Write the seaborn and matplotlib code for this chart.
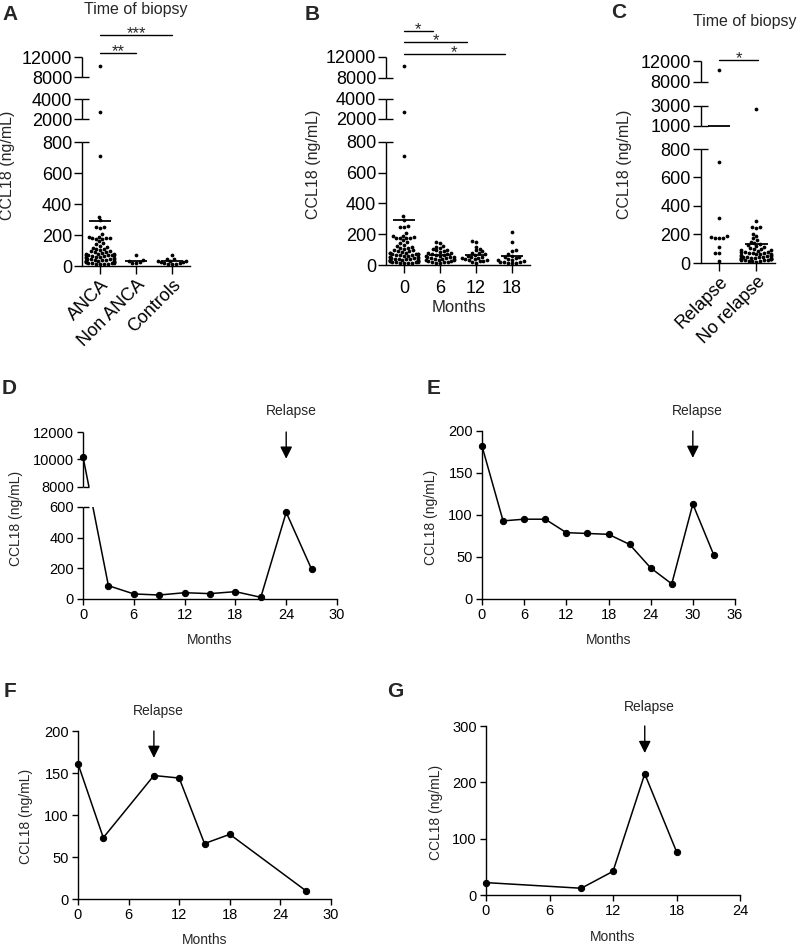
import warnings
import numpy as np
import pandas as pd
import matplotlib
matplotlib.use('Agg')
import matplotlib.pyplot as plt
import seaborn as sns

warnings.filterwarnings("ignore")

# -----------------------------
# Data
# -----------------------------

relapse = [10200, 711, 318, 190, 178, 178, 180, 176, 112, 72, 70, 16]
no_relapse = [2700, 295, 252, 250, 248, 205, 190, 175, 161, 150, 140, 132, 125, 118,
              110, 105, 100, 95, 90, 88, 85, 80, 78, 75, 72, 70, 68, 65, 62, 60, 58,
              55, 52, 50, 48, 45, 42, 40, 38, 35, 32, 30, 28, 25, 22, 20, 18, 15, 12,
              10, 45, 38, 30, 26, 24, 17]
anca = relapse + no_relapse
non_anca = [72, 38, 32, 28, 22, 18]
controls = [70, 48, 42, 35, 32, 30, 28, 25, 22, 20, 15, 12, 10]

month6 = [150, 140, 125, 120, 110, 105, 100, 95, 90, 85, 80, 75, 72, 70, 68, 65, 60, 58,
          55, 52, 50, 48, 45, 42, 40, 38, 35, 32, 30, 28, 25, 22, 20, 18, 15, 12]
month12 = [155, 150, 120, 105, 95, 88, 80, 75, 70, 65, 60, 55, 52, 48, 45, 42, 38, 35,
           30, 28, 25, 20, 15]
month18 = [215, 150, 95, 90, 70, 60, 55, 50, 45, 40, 35, 30, 25, 20, 15, 12, 10, 18, 22]

groups_a = ["ANCA", "Non ANCA", "Controls"]
groups_b = ["0", "6", "12", "18"]
groups_c = ["Relapse", "No relapse"]

months_d = [0, 3, 6, 9, 12, 15, 18, 21, 24, 27]
ccl18_d = [10200, 87, 33, 26, 41, 35, 48, 11, 565, 194]
months_e = [0, 3, 6, 9, 12, 15, 18, 21, 24, 27, 30, 33]
ccl18_e = [182, 93, 95, 95, 79, 78, 77, 65, 37, 18, 113, 52]
months_f = [0, 3, 9, 12, 15, 18, 27]
ccl18_f = [161, 73, 147, 144, 66, 77, 10]
months_g = [0, 9, 12, 15, 18]
ccl18_g = [22, 12, 42, 215, 77]
relapse_month = {"D": 24, "E": 30, "F": 9, "G": 15}

# -----------------------------
# Helpers
# -----------------------------

W, H = 802, 947
sns.set_theme(style="ticks")
plt.rcParams['font.family'] = ['Liberation Sans', 'DejaVu Sans']
plt.rcParams['axes.linewidth'] = 1.0
plt.rcParams['xtick.major.width'] = 1.0
plt.rcParams['ytick.major.width'] = 1.0
plt.rcParams['xtick.color'] = 'black'
plt.rcParams['ytick.color'] = 'black'
plt.rcParams['axes.edgecolor'] = 'black'

fig = plt.figure(figsize=(W / 100, H / 100), dpi=100)


def px_axes(left, top, right, bottom):
    return fig.add_axes([left / W, 1 - bottom / H, (right - left) / W, (bottom - top) / H])


def broken_y(ax, data_pts, disp_pts, segments, ticks, cap=5):
    ax.set_yscale('function', functions=(lambda v: np.interp(v, data_pts, disp_pts),
                                         lambda v: np.interp(v, disp_pts, data_pts)))
    ax.set_ylim(data_pts[0], data_pts[-1])
    ax.set_yticks(ticks)
    ax.set_yticklabels([str(t) for t in ticks])
    ax.yaxis.set_minor_locator(matplotlib.ticker.NullLocator())
    ax.spines['left'].set_visible(False)
    tr = ax.get_yaxis_transform()
    ax.vlines([0] * len(segments), [s[0] for s in segments], [s[1] for s in segments],
              transform=tr, color='black', lw=1, clip_on=False, zorder=5)
    caps = [v for s in segments for v in s][1:-1]
    ax.plot([0] * len(caps), caps, transform=tr, ls='none', marker=1, markersize=cap,
            mew=1, color='black', clip_on=False, zorder=5)


def scatter_panel(ax, groups, values, order):
    df = pd.DataFrame({"group": [g for g, v in zip(groups, values) for _ in v],
                       "value": [x for v in values for x in v]})
    sns.swarmplot(data=df, x="group", y="value", order=order, color="black",
                  size=2.7, linewidth=0, ax=ax)
    means = df.groupby("group")["value"].mean().reindex(order).values
    pos = np.arange(len(order))
    ax.hlines(means, pos - 0.3, pos + 0.3, color="black", lw=1.3, zorder=4)
    ax.set_xlim(-0.5, len(order) - 0.5)
    ax.set_xticks(pos)
    ax.set_xlabel("")
    ax.set_ylabel("CCL18 (ng/mL)", fontsize=11.5)
    sns.despine(ax=ax)


def scatter_ticks(ax):
    ax.tick_params(axis='y', labelsize=13, length=5.5, pad=1.5, color='black')
    ax.tick_params(axis='x', labelsize=13, length=5.5, pad=2, color='black')


def sig_bar(ax, x0, x1, yfrac, label):
    tr = ax.get_xaxis_transform()
    ax.plot([x0, x1], [yfrac, yfrac], transform=tr, color="black", lw=1, clip_on=False)
    ax.annotate(label, xy=((x0 + x1) / 2, yfrac), xycoords=tr, xytext=(0, 1),
                textcoords="offset points", ha="center", va="center", fontsize=12)


def line_panel(ax, months, values, xmax, key, text_y):
    sns.lineplot(x=months, y=values, color="black", marker="o", markersize=4.5,
                 markeredgecolor="black", linewidth=1.1, clip_on=False, ax=ax)
    ax.set_xlim(0, xmax)
    ax.set_xticks(np.arange(0, xmax + 1, 6))
    ax.set_ylabel("CCL18 (ng/mL)", fontsize=10)
    ax.set_xlabel("Months", fontsize=10)
    m = relapse_month[key]
    ax.annotate("", xy=(m, 0.84), xycoords=("data", "axes fraction"),
                xytext=(m, 1.0), textcoords=("data", "axes fraction"),
                arrowprops=dict(arrowstyle="-|>,head_length=0.6,head_width=0.3",
                                color="black", lw=1, mutation_scale=12,
                                shrinkA=0, shrinkB=0))
    ax.annotate("Relapse", xy=(m, text_y), xycoords=("data", "axes fraction"),
                xytext=(3.5, 0), textcoords="offset points", ha="center",
                va="center", fontsize=10)
    sns.despine(ax=ax)


def line_ticks(ax):
    ax.tick_params(axis='both', labelsize=10.5, length=4.5, pad=2, color='black')


# -----------------------------
# Panel A
# -----------------------------

ax = px_axes(82, 57, 190, 266)
scatter_panel(ax, groups_a, [anca, non_anca, controls], groups_a)
broken_y(ax, [0, 800, 2000, 4000, 8000, 12000], [0, 124, 147, 167, 189, 209],
         [(0, 800), (2000, 4000), (8000, 12000)],
         [0, 200, 400, 600, 800, 2000, 4000, 8000, 12000])
ax.set_xticklabels(groups_a, rotation=45, ha="right", rotation_mode="anchor")
scatter_ticks(ax)
ax.yaxis.set_label_coords(-0.62, 0.48)
sig_bar(ax, 0, 2, 1.105, "***")
sig_bar(ax, 0, 1, 1.019, "**")
ax.text(0.5, 1.225, "Time of biopsy", transform=ax.transAxes, ha="center",
        va="center", fontsize=11.5)

# -----------------------------
# Panel B
# -----------------------------

ax = px_axes(386, 57, 530, 265)
scatter_panel(ax, groups_b, [anca, month6, month12, month18], groups_b)
broken_y(ax, [0, 800, 2000, 4000, 8000, 12000], [0, 123, 146, 166, 187, 208],
         [(0, 800), (2000, 4000), (8000, 12000)],
         [0, 200, 400, 600, 800, 2000, 4000, 8000, 12000])
ax.set_xticklabels(groups_b)
scatter_ticks(ax)
ax.tick_params(axis='x', pad=5)
ax.set_xlabel("Months", fontsize=12)
ax.xaxis.set_label_coords(0.505, -0.17)
ax.yaxis.set_label_coords(-0.45, 0.486)
sig_bar(ax, 0, 0.8, 1.125, "*")
sig_bar(ax, 0, 1.75, 1.072, "*")
sig_bar(ax, 0, 2.8, 1.014, "*")

# -----------------------------
# Panel C
# -----------------------------

ax = px_axes(700.5, 61, 775, 263)
scatter_panel(ax, groups_c, [relapse, no_relapse], groups_c)
broken_y(ax, [0, 800, 1000, 3000, 8000, 12000], [0, 114, 137, 157, 181, 202],
         [(0, 800), (1000, 3000), (8000, 12000)],
         [0, 200, 400, 600, 800, 1000, 3000, 8000, 12000])
ax.set_xticklabels(groups_c, rotation=45, ha="right", rotation_mode="anchor")
scatter_ticks(ax)
ax.yaxis.set_label_coords(-0.92, 0.49)
sig_bar(ax, 0, 1.05, 1.005, "*")
ax.text(0.6, 1.198, "Time of biopsy", transform=ax.transAxes, ha="center",
        va="center", fontsize=11.5)

# -----------------------------
# Panels D - G
# -----------------------------

ax = px_axes(83, 432, 337, 599)
line_panel(ax, months_d, ccl18_d, 30, "D", 1.126)
broken_y(ax, [0, 600, 8000, 12000], [0, 92, 112, 167], [(0, 600), (8000, 12000)],
         [0, 200, 400, 600, 8000, 10000, 12000], cap=4.5)
ax.axhspan(600, 8000, color="white", zorder=3, lw=0)
line_ticks(ax)
ax.yaxis.set_label_coords(-0.236, 0.485)
ax.xaxis.set_label_coords(0.5, -0.204)

ax = px_axes(482, 431, 735, 599)
line_panel(ax, months_e, ccl18_e, 36, "E", 1.12)
ax.set_ylim(0, 200)
ax.set_yticks([0, 50, 100, 150, 200])
line_ticks(ax)
ax.yaxis.set_label_coords(-0.174, 0.488)
ax.xaxis.set_label_coords(0.5, -0.202)

ax = px_axes(78, 731, 331, 899)
line_panel(ax, months_f, ccl18_f, 30, "F", 1.119)
ax.set_ylim(0, 200)
ax.set_yticks([0, 50, 100, 150, 200])
line_ticks(ax)
ax.yaxis.set_label_coords(-0.178, 0.49)
ax.xaxis.set_label_coords(0.5, -0.2)

ax = px_axes(486, 726, 740, 895)
line_panel(ax, months_g, ccl18_g, 24, "G", 1.112)
ax.set_ylim(0, 300)
ax.set_yticks([0, 100, 200, 300])
line_ticks(ax)
ax.yaxis.set_label_coords(-0.169, 0.488)
ax.xaxis.set_label_coords(0.5, -0.205)

# -----------------------------
# Panel letters
# -----------------------------

for letter, x, y in [("A", 2, 14), ("B", 305, 14), ("C", 611, 12), ("D", 2, 389),
                     ("E", 427, 389), ("F", 4, 691), ("G", 387, 691)]:
    fig.text(x / W, 1 - y / H, letter, fontsize=15, fontweight="bold",
             ha="left", va="center")

fig.savefig("out.png", dpi=100)
plt.close(fig)
